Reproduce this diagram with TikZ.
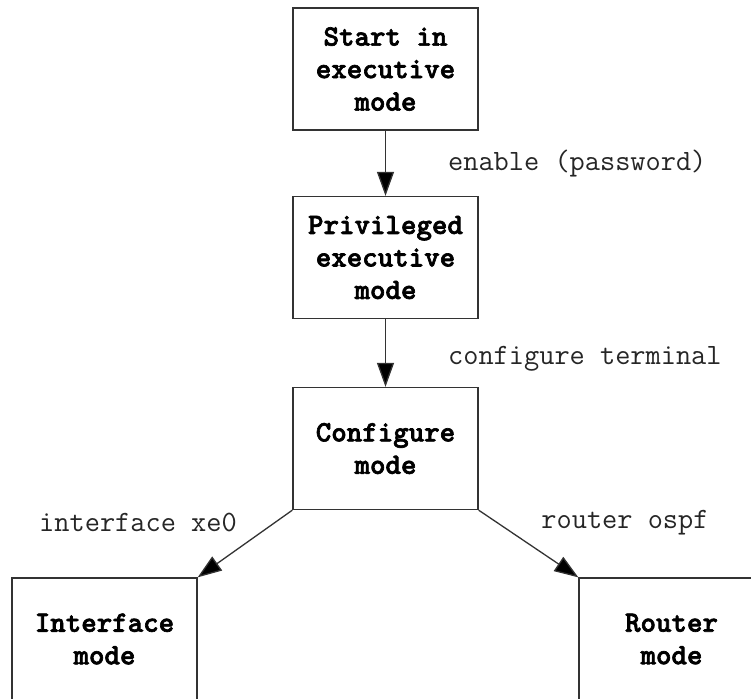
\documentclass[tikz,border=0pt]{standalone}
\usepackage{fontspec}
\newfontfamily\boxfont[FakeBold=2.2]{lmmonolt10-bold.otf}
\usetikzlibrary{arrows.meta}
\tikzset{
  modebox/.style={draw=black!80, line width=1.3pt, rectangle, minimum width=185pt, minimum height=122pt,
    inner sep=0pt, align=center, font=\boxfont\fontsize{29.5}{32.5}\selectfont, text=black},
  cmdlabel/.style={inner sep=0pt, font=\ttfamily\fontsize{29.5}{32}\selectfont, text=black!85},
  flow/.style={draw=black!80, line width=1.3pt, -{Triangle[length=24pt,width=17pt,fill=black]}}
}
\begin{document}
\begin{tikzpicture}
\useasboundingbox (0pt,0pt) rectangle (751pt,-698pt);
\clip (0pt,0pt) rectangle (751pt,-698pt);
\fill[white] (0pt,0pt) rectangle (751pt,-698pt);
\node[modebox] (start) at (385.5pt,-69pt) {Start in\\executive\\mode};
\node[modebox] (priv) at (385.5pt,-257.5pt) {Privileged\\executive\\mode};
\node[modebox] (conf) at (385.5pt,-448.5pt) {Configure\\mode};
\node[modebox] (iface) at (104.5pt,-639pt) {Interface\\mode};
\node[modebox] (router) at (671.5pt,-639pt) {Router\\mode};
\draw[flow] (start) -- node[cmdlabel, anchor=west, xshift=62pt] {enable (password)} (priv);
\draw[flow] (priv) -- node[cmdlabel, anchor=west, xshift=62pt, yshift=-6pt] {configure terminal} (conf);
\draw[flow] (conf.south west) -- node[cmdlabel, xshift=-107pt, yshift=21pt] {interface xe0} (iface.north east);
\draw[flow] (conf.south east) -- node[cmdlabel, xshift=96.5pt, yshift=21pt] {router ospf} (router.north west);
\end{tikzpicture}
\end{document}
